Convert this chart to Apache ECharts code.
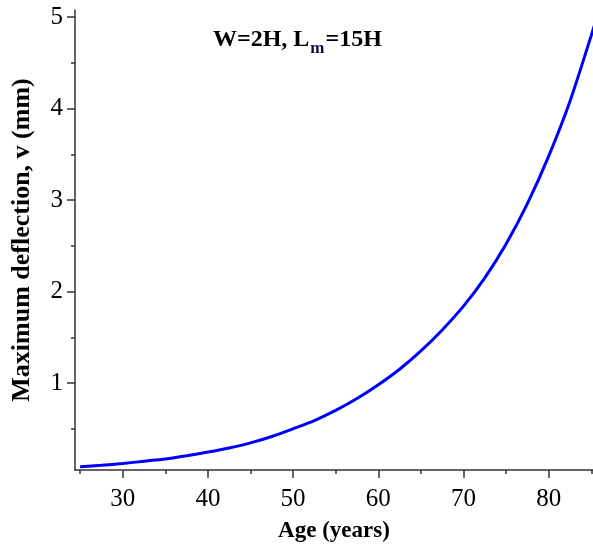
<!DOCTYPE html>
<html>
<head>
<meta charset="utf-8">
<title>Maximum deflection vs age</title>
<script src="https://cdn.jsdelivr.net/npm/echarts@6/dist/echarts.min.js"></script>
<style>
html, body { margin: 0; padding: 0; background: #fff; }
#main { width: 593px; height: 546px; }
</style>
</head>
<body>
<div id="main"></div>
<script>
// values
var ages       = [25, 27.5, 30, 32.5, 35, 37.5, 40, 42.5, 45, 47.5, 50, 52.5, 55, 57.5, 60, 62.5, 65, 67.5, 70, 72.5, 75, 77.5, 80, 82.5, 85, 86];
var deflection = [0.085, 0.10, 0.12, 0.145, 0.17, 0.205, 0.245, 0.29, 0.345, 0.415, 0.50, 0.59, 0.70, 0.83, 0.98, 1.15, 1.35, 1.58, 1.84, 2.15, 2.52, 2.96, 3.48, 4.08, 4.80, 5.10];

var xMajor = [30, 40, 50, 60, 70, 80];
var xMinor = [25, 35, 45, 55, 65, 75, 85];
var yMajor = [1, 2, 3, 4, 5];
var yMinor = [0.5, 1.5, 2.5, 3.5, 4.5];

var serif = "'Liberation Serif', 'DejaVu Serif', serif";
var axisLineStyle = { color: '#333', width: 1.5 };

var points = ages.map(function (a, i) { return [a, deflection[i]]; });

var chart = echarts.init(document.getElementById('main'));
var option = {
    animation: false,
    grid: { left: 75, right: 0, top: 10, bottom: 76, containLabel: false, outerBoundsMode: 'none' },
    xAxis: [
        {
            type: 'value', min: 24.4, max: 85.2, position: 'bottom',
            name: 'Age (years)', nameLocation: 'middle', nameGap: 50,
            nameTextStyle: { fontFamily: serif, fontSize: 23, fontWeight: 'bold', color: '#000' },
            axisLine: { show: true, lineStyle: axisLineStyle },
            axisTick: { show: true, length: 8, customValues: xMajor, lineStyle: { color: '#333', width: 1.5 } },
            axisLabel: { customValues: xMajor, margin: 17, fontFamily: serif, fontSize: 25, color: '#000' },
            splitLine: { show: false }
        },
        {
            type: 'value', min: 24.4, max: 85.2, position: 'bottom',
            axisLine: { show: false },
            axisTick: { show: true, length: 4, customValues: xMinor, lineStyle: { color: '#333', width: 1.5 } },
            axisLabel: { show: false },
            splitLine: { show: false }
        }
    ],
    yAxis: [
        {
            type: 'value', min: 0.049, max: 5.077, position: 'left',
            name: 'Maximum deflection, v (mm)', nameLocation: 'middle', nameGap: 40,
            nameTextStyle: { fontFamily: serif, fontSize: 26, fontWeight: 'bold', color: '#000' },
            axisLine: { show: true, lineStyle: axisLineStyle },
            axisTick: { show: true, length: 8, customValues: yMajor, lineStyle: { color: '#333', width: 1.5 } },
            axisLabel: { customValues: yMajor, margin: 12, fontFamily: serif, fontSize: 25, color: '#000' },
            splitLine: { show: false }
        },
        {
            type: 'value', min: 0.049, max: 5.077, position: 'left',
            axisLine: { show: false },
            axisTick: { show: true, length: 4, customValues: yMinor, lineStyle: { color: '#333', width: 1.5 } },
            axisLabel: { show: false },
            splitLine: { show: false }
        }
    ],
    graphic: [
        {
            type: 'text', left: 213, top: 28,
            style: {
                text: '{a|W=2H, L}{s|m}{a|=15H}',
                rich: {
                    a: { fontFamily: serif, fontSize: 24, fontWeight: 'bold', fill: '#000', lineHeight: 24, verticalAlign: 'top' },
                    s: { fontFamily: serif, fontSize: 17, fontWeight: 'bold', fill: '#101040', lineHeight: 17, padding: [12, 1, 0, 1], verticalAlign: 'top' }
                }
            }
        }
    ],
    series: [
        {
            type: 'line',
            data: points,
            xAxisIndex: 0, yAxisIndex: 0,
            smooth: 0.25,
            showSymbol: false,
            clip: true,
            lineStyle: { color: '#0000ff', width: 3 }
        }
    ]
};
chart.setOption(option);
</script>
</body>
</html>
